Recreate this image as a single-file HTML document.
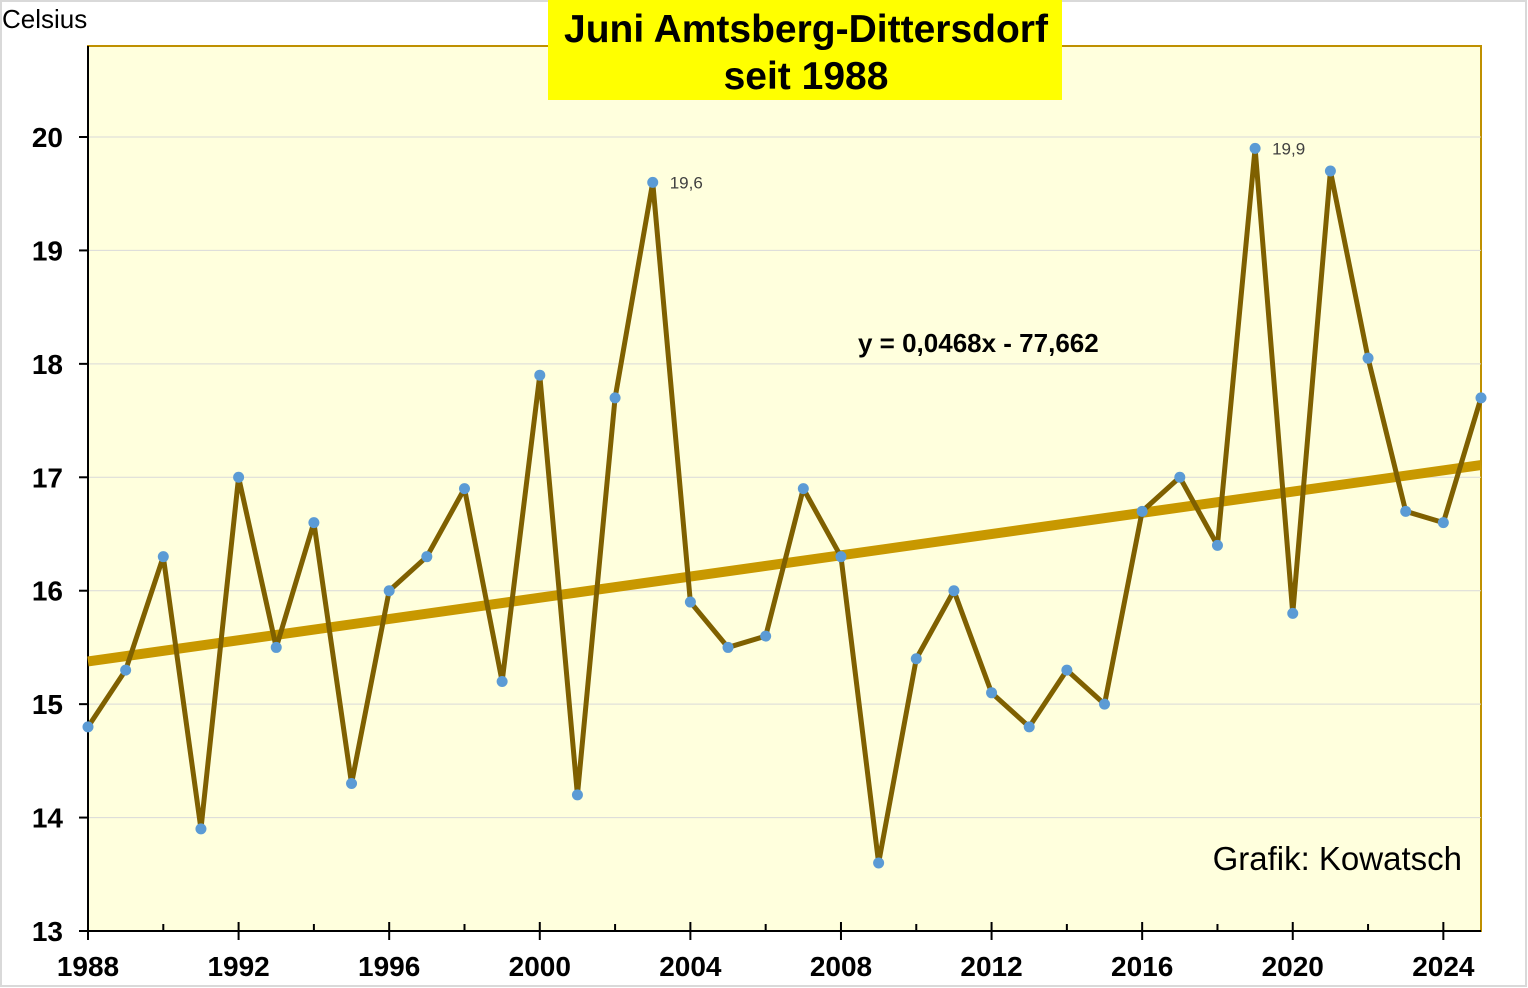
<!DOCTYPE html>
<html><head><meta charset="utf-8"><style>
body{margin:0;background:#fff;}
#wrap{position:relative;width:1528px;height:988px;overflow:hidden;font-family:"Liberation Sans",Arial,sans-serif;}
</style></head><body>
<div id="wrap">
<svg id="svg" width="1528" height="988" xmlns="http://www.w3.org/2000/svg">
<rect x="1" y="1" width="1525" height="985" fill="#fff" stroke="#d9d9d9" stroke-width="2"/>
<rect x="88" y="46" width="1393" height="885" fill="#ffffdd" stroke="#bf9000" stroke-width="2"/>
<g id="grid"></g><g id="axes"></g><g id="series"></g>
<rect x="548" y="0" width="514" height="100" fill="#ffff00"/>
<text x="806" y="42" text-anchor="middle" font-size="39" font-weight="bold" fill="#000">Juni Amtsberg-Dittersdorf</text>
<text x="806" y="89" text-anchor="middle" font-size="39" font-weight="bold" fill="#000">seit 1988</text>
<text x="2" y="28" font-size="26" fill="#000">Celsius</text>
<text x="858" y="352" font-size="26" font-weight="bold" fill="#000">y = 0,0468x - 77,662</text>
<text x="1462" y="870" text-anchor="end" font-size="33" fill="#000">Grafik: Kowatsch</text>
</svg>
</div>
<script>
const years=[1988,1989,1990,1991,1992,1993,1994,1995,1996,1997,1998,1999,2000,2001,2002,2003,2004,2005,2006,2007,2008,2009,2010,2011,2012,2013,2014,2015,2016,2017,2018,2019,2020,2021,2022,2023,2024,2025];
const temps=[14.8,15.3,16.3,13.9,17.0,15.5,16.6,14.3,16.0,16.3,16.9,15.2,17.9,14.2,17.7,19.6,15.9,15.5,15.6,16.9,16.3,13.6,15.4,16.0,15.1,14.8,15.3,15.0,16.7,17.0,16.4,19.9,15.8,19.7,18.05,16.7,16.6,17.7];
const yTicks=[13,14,15,16,17,18,19,20];
const xLabels=[1988,1992,1996,2000,2004,2008,2012,2016,2020,2024];
const trendSlope=0.0468, trendIntercept=-77.662;
const pointLabels={2003:"19,6",2019:"19,9"};
const NS="http://www.w3.org/2000/svg";
const X=v=>88+(v-1988)*(1481-88)/37;
const Y=v=>931-(v-13)*(931-137)/7;
function mk(tag,attrs,parent){const e=document.createElementNS(NS,tag);for(const k in attrs)e.setAttribute(k,attrs[k]);parent.appendChild(e);return e;}
const grid=document.getElementById('grid'),axes=document.getElementById('axes'),series=document.getElementById('series');
yTicks.forEach(t=>{
  if(t>13){const g=mk('line',{x1:88,x2:1481,y1:Y(t),y2:Y(t),stroke:'#d9d9d9','stroke-width':1},grid);
  
  }
  const tk=mk('line',{x1:79,x2:88,y1:Y(t),y2:Y(t),stroke:'#000','stroke-width':2},axes);
  
  
  const tx=mk('text',{x:63,y:Y(t)+10,'text-anchor':'end','font-size':28,'font-weight':'bold'},axes);tx.textContent=t;
  
  
});
const ya=mk('line',{x1:88,x2:88,y1:46,y2:931,stroke:'#000','stroke-width':2},axes);


const xa=mk('line',{x1:79,x2:1481,y1:931,y2:931,stroke:'#000','stroke-width':2},axes);


for(let yr=1988;yr<=2025;yr+=2){
  const major=(yr-1988)%4===0;
  const tk=mk('line',{x1:X(yr),x2:X(yr),y1:major?922:924,y2:major?940:931,stroke:'#000','stroke-width':2},axes);
  
  
}
xLabels.forEach(l=>{const tx=mk('text',{x:X(l),y:976,'text-anchor':'middle','font-size':28,'font-weight':'bold'},axes);tx.textContent=l;
  
  });
const tr=mk('line',{x1:X(1988),y1:Y(trendSlope*1988+trendIntercept),x2:X(2025),y2:Y(trendSlope*2025+trendIntercept),stroke:'#c89800','stroke-width':10},series);


const pl=mk('polyline',{points:years.map((y,i)=>X(y)+','+Y(temps[i])).join(' '),fill:'none',stroke:'#7f6000','stroke-width':5,'stroke-linejoin':'round'},series);


years.forEach((y,i)=>{const c=mk('circle',{cx:X(y),cy:Y(temps[i]),r:5.5,fill:'#5b9bd5'},series);
  
  
  if(pointLabels[y]){const t=mk('text',{x:X(y)+17,y:Y(temps[i])+6,'font-size':17,fill:'#404040'},series);t.textContent=pointLabels[y];
  
  }
});
</script>
</body></html>
